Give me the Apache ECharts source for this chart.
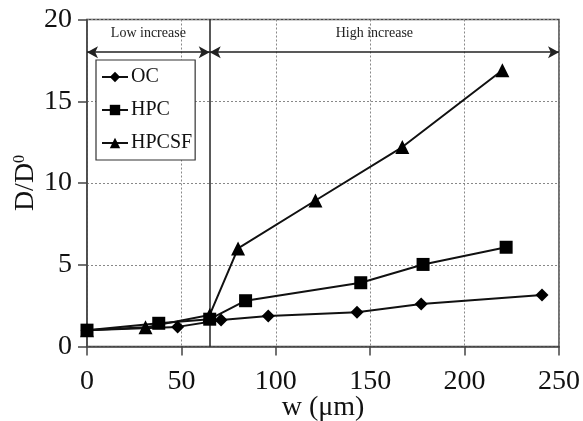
<!DOCTYPE html>
<html>
<head>
<meta charset="utf-8">
<script src="https://cdn.jsdelivr.net/npm/echarts@6/dist/echarts.min.js"></script>
<style>html,body{margin:0;padding:0;background:#fff;}#c{width:583px;height:421px;}</style>
</head>
<body>
<div id="c"></div>
<script>
var seriesNames = ['OC', 'HPC', 'HPCSF'];
var ocData = [[0, 1.0], [48, 1.2], [71, 1.62], [96, 1.87], [143, 2.1], [177, 2.6], [241, 3.15]];
var hpcData = [[0, 1.0], [38, 1.42], [65, 1.67], [84, 2.8], [145, 3.9], [178, 5.02], [222, 6.07]];
var hpcsfData = [[0, 1.0], [31, 1.17], [65, 1.93], [80, 6.0], [121, 8.93], [167, 12.2], [220, 16.9]];
var xTicks = [0, 50, 100, 150, 200, 250];
var yTicks = [0, 5, 10, 15, 20];
var regionBoundary = 65;
var arrowLevel = 18;
var regionLabels = ['Low increase', 'High increase'];
var xAxisTitle = 'w (μm)';
var yAxisTitle = 'D/D{sub|0}';

var font = 'Liberation Serif';
var chart = echarts.init(document.getElementById('c'), null, {renderer: 'canvas'});

function lineSeries(name, data, symbol, size) {
  return {
    name: name, type: 'line', data: data,
    symbol: symbol, symbolSize: size,
    lineStyle: {color: '#111', width: 2},
    itemStyle: {color: '#000'},
    z: 5
  };
}

var s0 = lineSeries(seriesNames[0], ocData, 'diamond', 13);
var s1 = lineSeries(seriesNames[1], hpcData, 'rect', 13);
var s2 = lineSeries(seriesNames[2], hpcsfData, 'triangle', 14);

s0.markLine = {
  silent: true,
  animation: false,
  data: [
    [{coord: [xTicks[0], arrowLevel], symbol: 'arrow'}, {coord: [regionBoundary, arrowLevel], symbol: 'arrow'}],
    [{coord: [regionBoundary, arrowLevel], symbol: 'arrow'}, {coord: [xTicks[xTicks.length - 1], arrowLevel], symbol: 'arrow'}],
    [{coord: [regionBoundary, yTicks[0]], symbol: 'none'}, {coord: [regionBoundary, yTicks[yTicks.length - 1]], symbol: 'none'}]
  ],
  symbolSize: [9, 11],
  lineStyle: {color: '#222', width: 1.5, type: 'solid'},
  label: {show: false}
};
s0.markArea = {
  silent: true,
  itemStyle: {color: 'rgba(0,0,0,0)'},
  label: {show: true, position: 'insideTop', distance: 7, color: '#222', fontFamily: font, fontSize: 14},
  data: [
    [{name: regionLabels[0], coord: [xTicks[0], 18.5]}, {coord: [regionBoundary, yTicks[yTicks.length - 1]]}],
    [{name: regionLabels[1], coord: [regionBoundary, 18.5], label: {offset: [-10, 0]}}, {coord: [xTicks[xTicks.length - 1], yTicks[yTicks.length - 1]]}]
  ]
};

var option = {
  backgroundColor: '#fff',
  animation: false,
  grid: {left: 87, right: 24, top: 19.5, bottom: 74.5, show: true, borderColor: '#444', borderWidth: 1.5,
    containLabel: false, outerBoundsMode: 'none'},
  legend: {
    data: seriesNames,
    orient: 'vertical',
    left: 96, top: 60,
    itemWidth: 26, itemHeight: 13, itemGap: 13,
    padding: [7, 3, 7, 5],
    borderColor: '#333', borderWidth: 1.2,
    backgroundColor: '#fff',
    textStyle: {fontFamily: font, fontSize: 20, color: '#111', padding: [0, 0, 0, -2]}
  },
  graphic: [
    {type: 'text', x: 323, y: 408, z: 10,
      style: {text: xAxisTitle, fontFamily: font, fontSize: 28, fill: '#111', align: 'center', verticalAlign: 'middle'}},
    {type: 'text', x: 26, y: 183, rotation: Math.PI / 2, z: 10,
      style: {text: yAxisTitle, fontFamily: font, fontSize: 28, fill: '#111', align: 'center', verticalAlign: 'middle',
        rich: {sub: {fontFamily: font, fontSize: 16, fill: '#111', verticalAlign: 'top', padding: [0, 0, 6, 0]}}}}
  ],
  xAxis: {
    type: 'value', min: xTicks[0], max: xTicks[xTicks.length - 1], interval: 50,
    axisLine: {show: true, lineStyle: {color: '#444', width: 1.5}},
    axisTick: {show: true, inside: false, length: 9, lineStyle: {color: '#444', width: 1.5}},
    axisLabel: {fontFamily: font, fontSize: 28, color: '#111', margin: 21, hideOverlap: false},
    splitLine: {show: true, lineStyle: {color: '#888', type: [2, 2], width: 1}}
  },
  yAxis: {
    type: 'value', min: yTicks[0], max: yTicks[yTicks.length - 1], interval: 5,
    axisLine: {show: true, lineStyle: {color: '#444', width: 1.5}},
    axisTick: {show: true, inside: false, length: 9, lineStyle: {color: '#444', width: 1.5}},
    axisLabel: {fontFamily: font, fontSize: 28, color: '#111', margin: 15},
    splitLine: {show: true, lineStyle: {color: '#888', type: [2, 2], width: 1}}
  },
  series: [s0, s1, s2]
};
chart.setOption(option);
</script>
</body>
</html>
